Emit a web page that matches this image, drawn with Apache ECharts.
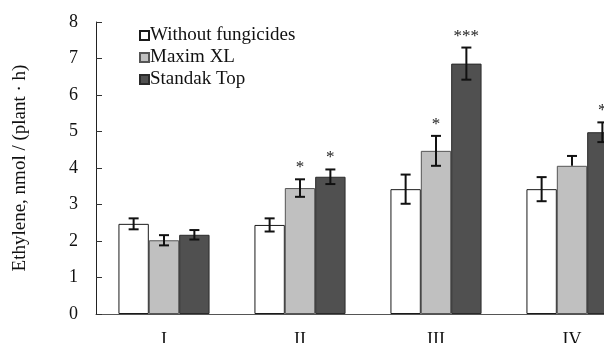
<!DOCTYPE html>
<html>
<head>
<meta charset="utf-8">
<script src="https://cdn.jsdelivr.net/npm/echarts@6/dist/echarts.min.js"></script>
<style>
html,body{margin:0;padding:0;background:#fff;}
#chart{width:604px;height:343px;}
</style>
</head>
<body>
<div id="chart"></div>
<script>
const categories = ['I', 'II', 'III', 'IV'];
const seriesNames = ['Without fungicides', 'Maxim XL', 'Standak Top'];
const withoutFungicides = [2.47, 2.44, 3.42, 3.42];
const maximXL = [2.02, 3.45, 4.47, 4.06];
const standakTop = [2.17, 3.76, 6.86, 4.98];
const errWithout = [0.15, 0.18, 0.40, 0.33];
const errMaxim = [0.14, 0.24, 0.41, 0.27];
const errStandak = [0.13, 0.20, 0.44, 0.27];
const errMaximLower = [0.14, 0.24, 0.41, 0];
const sigWithout = ['', '', '', ''];
const sigMaxim = ['', '*', '*', ''];
const sigStandak = ['', '*', '***', '*'];
const yTicks = [0, 1, 2, 3, 4, 5, 6, 7, 8];

const values = [withoutFungicides, maximXL, standakTop];
const errUp = [errWithout, errMaxim, errStandak];
const errDown = [errWithout, errMaximLower, errStandak];
const sigs = [sigWithout, sigMaxim, sigStandak];
const fills = ['#ffffff', '#c0c0c0', '#505050'];
const borders = ['#1a1a1a', '#555555', '#2a2a2a'];
const FONT = '"Liberation Serif", "DejaVu Serif", serif';
const CAT_GAP = 0.33;

const chart = echarts.init(document.getElementById('chart'), null, {renderer: 'canvas'});

const series = [];
values.forEach((vals, si) => {
  series.push({
    name: seriesNames[si],
    type: 'bar',
    data: vals,
    barGap: '0%',
    barCategoryGap: (CAT_GAP * 100) + '%',
    itemStyle: {color: fills[si], borderColor: borders[si], borderWidth: 1},
    z: 2
  });
});
values.forEach((vals, si) => {
  const data = vals.map((v, i) => [i, v, errUp[si][i], errDown[si][i], sigs[si][i]]);
  series.push({
    type: 'custom',
    data: data,
    z: 5,
    silent: true,
    clip: false,
    encode: {x: 0, y: 1},
    renderItem: function (params, api) {
      const ci = api.value(0);
      const v = api.value(1);
      const up = api.value(2);
      const dn = api.value(3);
      const sig = data[params.dataIndex][4];
      const band = api.size([1, 0])[0];
      const bw = band * (1 - CAT_GAP) / 3;
      const center = api.coord([ci, v])[0];
      const x = center + (si - 1) * bw;
      const yTop = api.coord([ci, v + up])[1];
      const yBot = api.coord([ci, v - dn])[1];
      const cap = 5;
      const st = {stroke: '#111', lineWidth: 2};
      const children = [
        {type: 'line', shape: {x1: x, y1: yTop, x2: x, y2: yBot}, style: st},
        {type: 'line', shape: {x1: x - cap, y1: yTop, x2: x + cap, y2: yTop}, style: st}
      ];
      if (dn > 0) {
        children.push({type: 'line', shape: {x1: x - cap, y1: yBot, x2: x + cap, y2: yBot}, style: st});
      }
      if (sig) {
        children.push({type: 'text', style: {text: sig, x: x, y: yTop - 3, align: 'center', verticalAlign: 'bottom', font: '17px ' + FONT, fill: '#222'}});
      }
      return {type: 'group', children: children};
    }
  });
});

chart.setOption({
  animation: false,
  backgroundColor: '#ffffff',
  legend: {
    data: seriesNames,
    orient: 'vertical',
    left: 134,
    top: 21,
    itemWidth: 9,
    itemHeight: 9,
    itemGap: 3,
    icon: 'rect',
    textStyle: {fontFamily: FONT, fontSize: 19, color: '#111', padding: [0, 0, 0, -4]}
  },
  grid: {left: 96, top: 22, right: -36, bottom: 29, containLabel: false, outerBoundsMode: 'none'},
  xAxis: {
    type: 'category',
    data: categories,
    axisLine: {lineStyle: {color: '#555', width: 1}},
    axisTick: {inside: true, length: 5, lineStyle: {color: '#333'}},
    axisLabel: {fontFamily: FONT, fontSize: 18, color: '#111', margin: 17}
  },
  yAxis: {
    type: 'value',
    min: 0,
    max: 8,
    interval: 1,
    name: 'Ethylene, nmol / (plant · h)',
    nameLocation: 'middle',
    nameGap: 66,
    nameTextStyle: {fontFamily: FONT, fontSize: 19, color: '#111'},
    axisLine: {show: true, lineStyle: {color: '#222', width: 1}},
    axisTick: {show: true, inside: true, length: 6, lineStyle: {color: '#333'}},
    axisLabel: {fontFamily: FONT, fontSize: 18, color: '#111', margin: 18,
      formatter: function (v) { return yTicks.indexOf(v) >= 0 ? String(v) : ''; }},
    splitLine: {show: false}
  },
  series: series
});
</script>
</body>
</html>
